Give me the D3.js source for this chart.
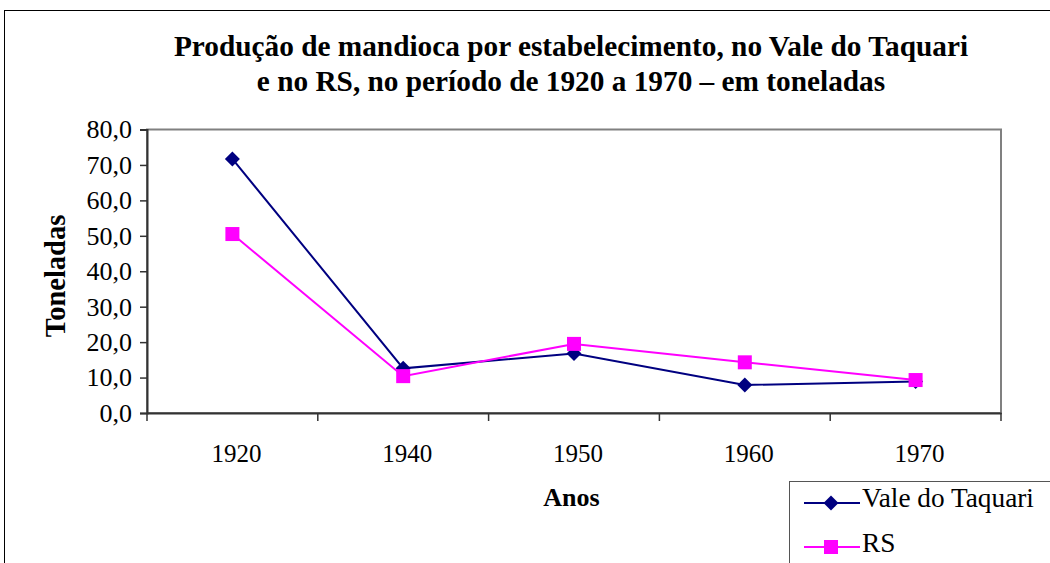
<!DOCTYPE html>
<html>
<head>
<meta charset="utf-8">
<script src="https://cdn.jsdelivr.net/npm/d3@7"></script>
<style>
  body { margin: 0; background: #fff; }
  svg, svg text { font-family: "Liberation Serif", "Times New Roman", "DejaVu Serif", serif; }
</style>
</head>
<body>
<div id="chart"></div>
<script>
// values
var years = ["1920", "1940", "1950", "1960", "1970"];
var valeDoTaquari = [71.7, 12.6, 16.8, 7.9, 8.9];
var rioGrandeDoSul = [50.5, 10.4, 19.5, 14.3, 9.3];
var yTicks = [0, 10, 20, 30, 40, 50, 60, 70, 80];

var series = [
  { name: "Vale do Taquari", values: valeDoTaquari, color: "#000080", marker: "diamond" },
  { name: "RS", values: rioGrandeDoSul, color: "#ff00ff", marker: "square" },
];

var W = 1050, H = 563;
var margin = { top: 129.5, right: 49, bottom: 150, left: 147 },
  width = W - margin.left - margin.right,
  height = H - margin.top - margin.bottom;

var svg = d3.select("#chart").append("svg").attr("width", W).attr("height", H);

// outer chart frame (runs off the right and bottom edges)
svg.append("rect")
  .attr("x", 4.5).attr("y", 10.5)
  .attr("width", W + 20).attr("height", H + 20)
  .attr("fill", "none").attr("stroke", "#000").attr("stroke-width", 1);

var titleLines = [
  "Produção de mandioca por estabelecimento, no Vale do Taquari",
  "e no RS, no período de 1920 a 1970 – em toneladas",
];
svg.selectAll(".title")
  .data(titleLines)
  .enter()
  .append("text")
  .attr("class", "title")
  .attr("x", 571)
  .attr("y", (d, i) => 56 + i * 35)
  .attr("text-anchor", "middle")
  .style("font-size", "29.3px").style("font-weight", "bold")
  .text((d) => d);

var g = svg.append("g").attr("transform", `translate(${margin.left}, ${margin.top})`);

var x = d3.scaleBand().domain(years).range([0, width]);
var y = d3.scaleLinear().domain([0, 80]).range([height, 0]);

// plot area border
g.append("rect")
  .attr("width", width).attr("height", height)
  .attr("fill", "none").attr("stroke", "#808080").attr("stroke-width", 2);

var fmt = (d) => d.toFixed(1).replace(".", ",");

var yAxis = g.append("g")
  .call(d3.axisLeft(y).tickValues(yTicks).tickFormat(fmt).tickSize(7).tickPadding(8))
  .attr("font-family", null).attr("font-size", null);
yAxis.select(".domain").attr("stroke", "#333").attr("stroke-width", 2);
yAxis.selectAll(".tick line").attr("stroke", "#333").attr("stroke-width", 1.5);
yAxis.selectAll(".tick text")
  .style("font-size", "26px").attr("fill", "#000");

var xAxis = g.append("g")
  .attr("transform", `translate(0, ${height})`)
  .call(d3.axisBottom(x).tickSize(0).tickPadding(31))
  .attr("font-family", null).attr("font-size", null);
xAxis.select(".domain").attr("stroke", "#333").attr("stroke-width", 2);
xAxis.selectAll(".tick text")
  .attr("x", 4)
  .style("font-size", "25px").attr("fill", "#000");

// tick marks at the band edges
var edges = years.map((d) => x(d)).concat([width]);
g.selectAll(".edge-tick")
  .data(edges)
  .enter()
  .append("line")
  .attr("class", "edge-tick")
  .attr("x1", (d) => d).attr("x2", (d) => d)
  .attr("y1", height).attr("y2", height + 8)
  .attr("stroke", "#333").attr("stroke-width", 1.5);

svg.append("text")
  .attr("transform", "translate(65, 276) rotate(-90)")
  .attr("text-anchor", "middle")
  .style("font-size", "28.5px").style("font-weight", "bold")
  .text("Toneladas");

svg.append("text")
  .attr("x", 571.5).attr("y", 506)
  .attr("text-anchor", "middle")
  .style("font-size", "26px").style("font-weight", "bold")
  .text("Anos");

var cx = (i) => x(years[i]) + x.bandwidth() / 2;
var line = d3.line().x((d, i) => cx(i)).y((d) => y(d));

function drawMarker(sel, type, color) {
  if (type === "diamond") {
    sel.append("path")
      .attr("d", "M0,-7.5L7.5,0L0,7.5L-7.5,0Z")
      .attr("fill", color);
  } else {
    sel.append("rect")
      .attr("x", -7).attr("y", -7).attr("width", 14).attr("height", 14)
      .attr("fill", color);
  }
}

series.forEach(function(s) {
  g.append("path")
    .datum(s.values)
    .attr("fill", "none")
    .attr("stroke", s.color)
    .attr("stroke-width", 2)
    .attr("d", line);
});
series.forEach(function(s) {
  s.values.forEach(function(v, i) {
    var m = g.append("g").attr("transform", `translate(${cx(i)}, ${y(v)})`);
    drawMarker(m, s.marker, s.color);
  });
});

// legend
var legend = svg.append("g");
legend.append("rect")
  .attr("x", 789.5).attr("y", 481.5)
  .attr("width", 300).attr("height", 120)
  .attr("fill", "#fff").attr("stroke", "#555").attr("stroke-width", 1);

series.forEach(function(s, i) {
  var ly = 503 + i * 44;
  var item = legend.append("g").attr("transform", `translate(0, ${ly})`);
  item.append("line")
    .attr("x1", 804).attr("x2", 860)
    .attr("stroke", s.color).attr("stroke-width", 2);
  var m = item.append("g").attr("transform", "translate(831, 0)");
  drawMarker(m, s.marker, s.color);
  item.append("text")
    .attr("x", 862).attr("y", 4 + i)
    .style("font-size", "27.3px")
    .text(s.name);
});
</script>
</body>
</html>
